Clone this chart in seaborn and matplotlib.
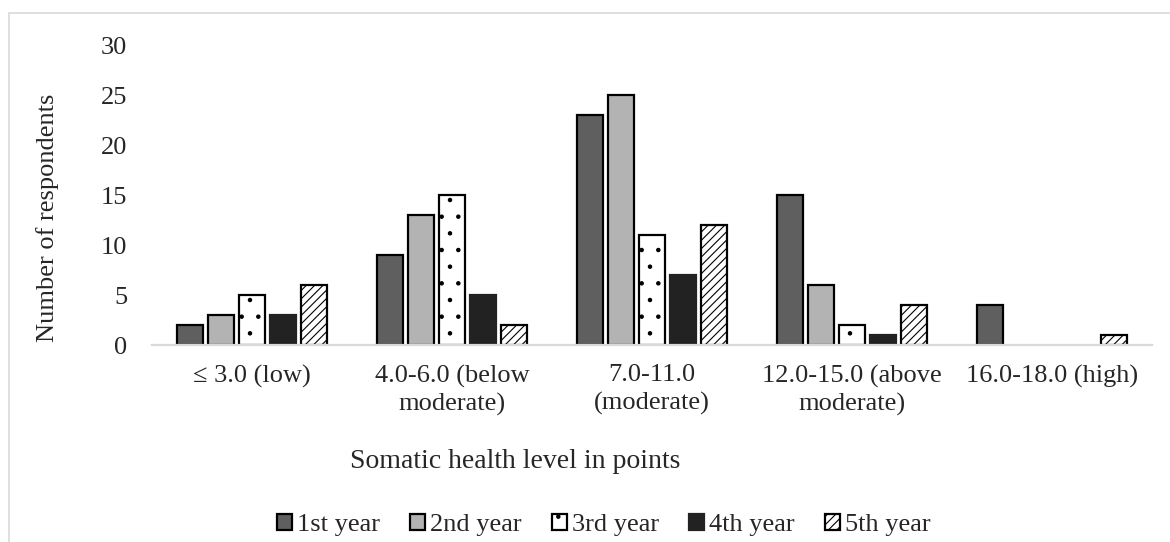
import matplotlib
matplotlib.use("Agg")
import matplotlib.pyplot as plt
from matplotlib.lines import Line2D
import pandas as pd
import seaborn as sns

# Somatic health level groups (x categories)
categories = [
    "\u2264 3.0 (low)",
    "4.0-6.0 (below\nmoderate)",
    "7.0-11.0\n(moderate)",
    "12.0-15.0 (above\nmoderate)",
    "16.0-18.0 (high)",
]
years = ["1st year", "2nd year", "3rd year", "4th year", "5th year"]

# Number of respondents per study year, one list per year
year1 = [2, 9, 23, 15, 4]
year2 = [3, 13, 25, 6, 0]
year3 = [5, 15, 11, 2, 0]
year4 = [3, 5, 7, 1, 0]
year5 = [6, 2, 12, 4, 1]

series = [year1, year2, year3, year4, year5]
df = pd.DataFrame(
    [(c, y, v) for y, vals in zip(years, series) for c, v in zip(categories, vals)],
    columns=["level", "year", "count"],
)

fills = ["#5f5f5f", "#b3b3b3", "#ffffff", "#222222", "#ffffff"]
hatches = [None, None, ".", None, "////"]

sns.set_theme(style="white")
plt.rcParams["font.family"] = ["Liberation Serif", "DejaVu Serif"]
plt.rcParams["hatch.linewidth"] = 0.8
plt.rcParams["hatch.color"] = "black"

W, H = 1170, 542
fig = plt.figure(figsize=(W / 100, H / 100), dpi=100)
ax = fig.add_axes([152 / W, 1 - 345 / H, 1000 / W, 300 / H])

sns.barplot(
    data=df, x="level", y="count", hue="year",
    order=categories, hue_order=years, palette=fills,
    width=0.775, gap=0.19, edgecolor="black", linewidth=1.6,
    saturation=1, legend=False, ax=ax,
)

for cont, fc, hatch in zip(ax.containers, fills, hatches):
    for bar in cont.patches:
        if hatch:
            bar.set_hatch(hatch)
        if fc == "#222222":
            bar.set_edgecolor(fc)
        if bar.get_height() == 0:
            bar.set_visible(False)

ax.set_ylim(0, 30)
ax.set_yticks(range(0, 31, 5))
ax.set_xlim(-0.5, len(categories) - 0.5)
ax.set_xlabel("")
ax.set_ylabel("")
for side in ["top", "right", "left"]:
    ax.spines[side].set_visible(False)
ax.spines["bottom"].set_color("#d9d9d9")
ax.spines["bottom"].set_linewidth(1.6)
ax.tick_params(axis="y", length=0, pad=18, labelsize=19)
ax.tick_params(axis="x", length=0, pad=14, labelsize=19)
for lab in ax.get_xticklabels():
    lab.set_linespacing(1.3)

fig.text(48 / W, 1 - 218 / H, "Number of respondents", rotation=90,
         ha="center", va="center", fontsize=19)
fig.text(350 / W, 1 - 461 / H, "Somatic health level in points",
         ha="left", va="center", fontsize=20)

fig.legend(
    handles=list(ax.containers), labels=years,
    loc="center", bbox_to_anchor=(604 / W, 1 - 525 / H), ncol=5,
    frameon=False, fontsize=19, handlelength=0.55, handleheight=0.55,
    handletextpad=0.2, columnspacing=1.15, borderpad=0,
)

# light chart-area frame (top and left edges)
fig.add_artist(Line2D([9 / W, 1], [1 - 13 / H, 1 - 13 / H], color="#d9d9d9", lw=1.2))
fig.add_artist(Line2D([9 / W, 9 / W], [0, 1 - 13 / H], color="#d9d9d9", lw=1.2))

fig.savefig("out.png", dpi=100)
